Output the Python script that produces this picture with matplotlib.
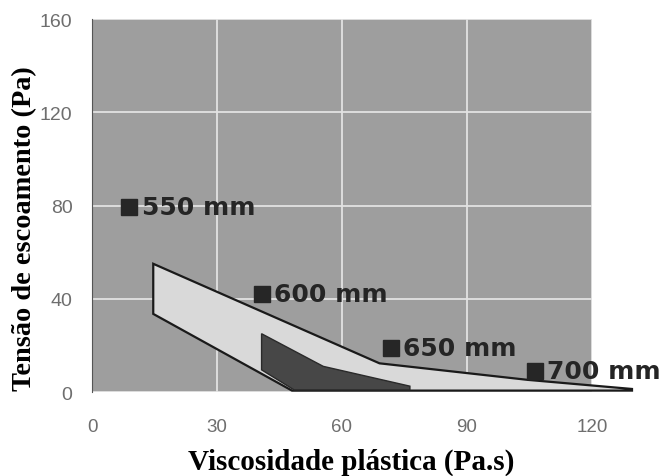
import matplotlib
matplotlib.use("Agg")
import matplotlib.pyplot as plt
from matplotlib.patches import Polygon

# zone outlines (viscosidade plástica, tensão de escoamento)
zona_clara_x = [14.7, 69.0, 104.6, 129.6, 129.6, 48.0, 14.7]
zona_clara_y = [55.0, 12.3, 5.2, 1.3, 0.6, 0.6, 33.5]
zona_escura_x = [40.7, 55.5, 76.3, 76.3, 48.5, 40.7]
zona_escura_y = [25.0, 11.0, 2.5, 0.9, 0.9, 9.5]

# slump-flow labels
espalhamento = ["550 mm", "600 mm", "650 mm", "700 mm"]
rotulo_x = [8.9, 40.7, 71.7, 106.3]
rotulo_y = [79.4, 42.1, 19.0, 9.1]

xticks = [0, 30, 60, 90, 120]
yticks = [0, 40, 80, 120, 160]

fig = plt.figure(figsize=(6.7, 4.77), dpi=100)
ax = fig.add_axes([92 / 670, 1 - 393 / 477, 500 / 670, 373 / 477])
ax.set_facecolor("#9e9e9e")
ax.set_xlim(0, 120)
ax.set_ylim(0, 160)

ax.grid(True, color="#e2e2e2", linewidth=1.3)
ax.set_axisbelow(True)

ax.add_patch(Polygon(list(zip(zona_clara_x, zona_clara_y)), closed=True,
                     facecolor="#d9d9d9", edgecolor="#1a1a1a", linewidth=1.6,
                     clip_on=False, zorder=3))
ax.add_patch(Polygon(list(zip(zona_escura_x, zona_escura_y)), closed=True,
                     facecolor="#474747", edgecolor="#2a2a2a", linewidth=1.0,
                     clip_on=False, zorder=4))

for nome, x, y in zip(espalhamento, rotulo_x, rotulo_y):
    ax.plot(x, y, marker="s", markersize=11, color="#262626", clip_on=False, zorder=5)
    ax.annotate(nome, (x, y), xytext=(9, 0), textcoords="offset points",
                ha="left", va="center", fontsize=18, fontweight="bold",
                family="DejaVu Sans", color="#252525", zorder=6,
                annotation_clip=False)

for s in ["top", "right", "bottom"]:
    ax.spines[s].set_visible(False)
ax.spines["left"].set_color("#555555")
ax.spines["left"].set_linewidth(0.8)

ax.set_xticks(xticks)
ax.set_yticks(yticks)
ax.tick_params(axis="x", length=0, pad=19, labelsize=13.5, labelcolor="#6e6e6e")
ax.tick_params(axis="y", length=0, pad=14, labelsize=14, labelcolor="#6e6e6e")
for lbl in ax.get_xticklabels() + ax.get_yticklabels():
    lbl.set_family("Liberation Sans")

ax.set_xlabel("Viscosidade plástica (Pa.s)", family="Liberation Serif",
              fontweight="bold", fontsize=21)
ax.set_ylabel("Tensão de escoamento (Pa)", family="Liberation Serif",
              fontweight="bold", fontsize=20.4)
ax.xaxis.set_label_coords(0.518, -0.148)
ax.yaxis.set_label_coords(-0.110, 0.442)

fig.savefig("out.png", dpi=100)
